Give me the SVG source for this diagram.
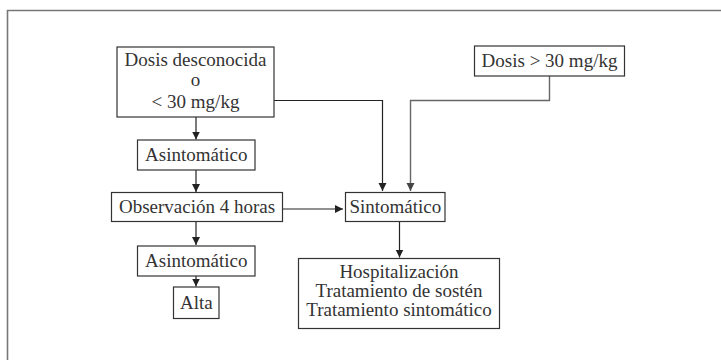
<svg xmlns="http://www.w3.org/2000/svg" width="721" height="360" viewBox="0 0 721 360">
<style>
.box{fill:#fff;stroke:#333;stroke-width:1.2}
.t{font-family:"Liberation Serif","Times New Roman",serif;font-size:19px;fill:#333;text-anchor:middle}
.c{fill:none;stroke:#222;stroke-width:1.2}
.g{fill:none;stroke:#666;stroke-width:1.4}
.frame{fill:none;stroke:#777;stroke-width:1.6}
</style>
<defs>
<marker id="ah" viewBox="0 0 8 10" refX="8" refY="5" markerWidth="8" markerHeight="10" markerUnits="userSpaceOnUse" orient="auto">
<path d="M0,1 L8,5 L0,9 Z" fill="#222"/>
</marker>
<marker id="ahg" viewBox="0 0 8 10" refX="8" refY="5" markerWidth="8" markerHeight="10" markerUnits="userSpaceOnUse" orient="auto">
<path d="M0,1 L8,5 L0,9 Z" fill="#444"/>
</marker>
</defs>
<path class="frame" d="M7.5,360 V10.5 H721"/>
<g id="connectors">
<path class="c" d="M196,117 V139.5" marker-end="url(#ah)"/>
<path class="c" d="M196,170 V192" marker-end="url(#ah)"/>
<path class="c" d="M196,221.5 V245" marker-end="url(#ah)"/>
<path class="c" d="M196,276 V286.5" marker-end="url(#ah)"/>
<path class="c" d="M282.5,209 H343" marker-end="url(#ah)"/>
<path class="c" d="M274,100.5 H382.5 V191" marker-end="url(#ah)"/>
<path class="g" d="M549.5,76 V100.5 H410.5 V191" marker-end="url(#ahg)"/>
<path class="c" d="M399.5,221.5 V257.5" marker-end="url(#ah)"/>
</g>
<g id="n1">
<rect class="box" x="117" y="47" width="157" height="70"/>
<text class="t" x="195.5" y="66">Dosis desconocida</text>
<text class="t" x="195.5" y="86">o</text>
<text class="t" x="195.5" y="108">&lt; 30 mg/kg</text>
</g>
<g id="n2">
<rect class="box" x="474.5" y="46" width="150" height="30"/>
<text class="t" x="549.5" y="67">Dosis &gt; 30 mg/kg</text>
</g>
<g id="n3">
<rect class="box" x="137.5" y="140" width="117.5" height="30"/>
<text class="t" x="196.3" y="161">Asintomático</text>
</g>
<g id="n4">
<rect class="box" x="111.5" y="192.5" width="171" height="29"/>
<text class="t" x="197" y="213">Observación 4 horas</text>
</g>
<g id="n5">
<rect class="box" x="345.5" y="192.5" width="99.5" height="29"/>
<text class="t" x="395.3" y="213">Sintomático</text>
</g>
<g id="n6">
<rect class="box" x="137.5" y="246" width="117.5" height="30"/>
<text class="t" x="196.3" y="267">Asintomático</text>
</g>
<g id="n7">
<rect class="box" x="173.5" y="287" width="45.5" height="31.5"/>
<text class="t" x="196.3" y="309">Alta</text>
</g>
<g id="n8">
<rect class="box" x="298.5" y="258.5" width="201" height="70"/>
<text class="t" x="399" y="278">Hospitalización</text>
<text class="t" x="399" y="297">Tratamiento de sostén</text>
<text class="t" x="399" y="316">Tratamiento sintomático</text>
</g>
</svg>
